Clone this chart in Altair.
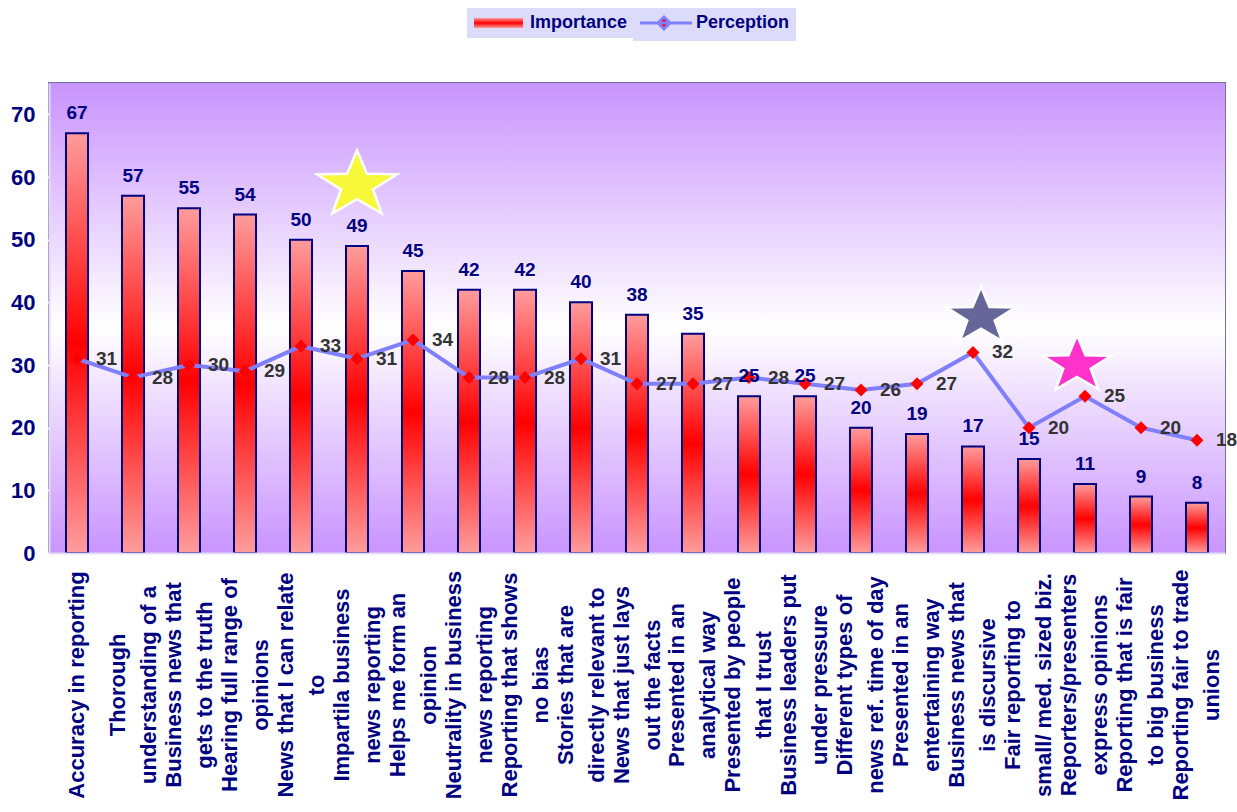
import math
import altair as alt
import pandas as pd

labels = [
    "Accuracy in reporting",
    "Thorough\nunderstanding of a",
    "Business news that\ngets to the truth",
    "Hearing full range of\nopinions",
    "News that I can relate\nto",
    "Impartila business\nnews reporting",
    "Helps me form an\nopinion",
    "Neutrality in business\nnews reporting",
    "Reporting that shows\nno bias",
    "Stories that are\ndirectly relevant to",
    "News that just lays\nout the facts",
    "Presented in an\nanalytical way",
    "Presented by people\nthat I trust",
    "Business leaders put\nunder pressure",
    "Different types of\nnews ref. time of day",
    "Presented in an\nentertaining way",
    "Business news that\nis discursive",
    "Fair reporting to\nsmall/ med. sized biz.",
    "Reporters/presenters\nexpress opinions",
    "Reporting that is fair\nto big business",
    "Reporting fair to trade\nunions",
]
importance = [67, 57, 55, 54, 50, 49, 45, 42, 42, 40, 38, 35, 25, 25, 20, 19, 17, 15, 11, 9, 8]
perception = [31, 28, 30, 29, 33, 31, 34, 28, 28, 31, 27, 27, 28, 27, 26, 27, 32, 20, 25, 20, 18]
y_ticks = [0, 10, 20, 30, 40, 50, 60, 70]

# star annotations: anchor category index and value
star_cat = [5, 16, 18]
star_val = [58.7, 37.7, 30.0]
star_color = ["#F8F83A", "#666699", "#FF33CC"]

W, H = 1176, 470
FONT = "Liberation Sans"
NAVY = "#000080"

df = pd.DataFrame({
    "label": labels,
    "importance": importance,
    "perception": perception,
    "s1": ["Importance"] * len(labels),
    "s2": ["Perception"] * len(labels),
})

x_enc = alt.X(
    "label:N", sort=labels,
    scale=alt.Scale(paddingInner=0.6071, paddingOuter=0.3036),
    axis=alt.Axis(labels=False, ticks=False, title=None, domainColor="#E4DCF4",
                  domainWidth=2, zindex=1),
)
y_axis = alt.Axis(values=y_ticks, title=None, labelFont=FONT, labelFontSize=22,
                  labelFontWeight="bold", labelColor=NAVY, tickColor="white",
                  tickSize=6, tickWidth=2, labelPadding=8, domainColor="#E4DCF4",
                  domainWidth=2, grid=False, zindex=1)
y_scale = alt.Scale(domain=[0, 75], nice=False)

bg_grad = alt.Gradient(
    gradient="linear", x1=0, x2=0, y1=0, y2=1,
    stops=[alt.GradientStop(color="#C994FF", offset=0),
           alt.GradientStop(color="#FFFFFF", offset=0.52),
           alt.GradientStop(color="#C994FF", offset=1)],
)
bar_grad = alt.Gradient(
    gradient="linear", x1=0, x2=0, y1=0, y2=1,
    stops=[alt.GradientStop(color="#FF9C9C", offset=0),
           alt.GradientStop(color="#FF0000", offset=0.5),
           alt.GradientStop(color="#FF9C9C", offset=1)],
)

background = alt.Chart(pd.DataFrame({"a": [0]})).mark_rect(fill=bg_grad).encode(
    x=alt.value(0), x2=alt.value(W), y=alt.value(0), y2=alt.value(H)
)

leg_common = dict(title=None, orient="none", labelFont=FONT, labelFontSize=18,
                  labelFontWeight="bold", labelColor=NAVY, fillColor="#DCDCFA",
                  padding=6, symbolSize=100, legendY=-75)

IMP_SYM = "M-1.6,-1L8.2,-1L8.2,1L-1.6,1Z"
PER_SYM = "M-1.6,0L8.8,0M2,0L3.2,-1.2L4.4,0L3.2,1.2Z"

bars = alt.Chart(df).mark_bar(fill=bar_grad, stroke=NAVY, strokeWidth=2).encode(
    x=x_enc,
    y=alt.Y("importance:Q", scale=y_scale, axis=y_axis),
    opacity=alt.Opacity("s1:N", scale=alt.Scale(domain=["Importance"], range=[1.0]),
                        legend=alt.Legend(symbolType=IMP_SYM, symbolStrokeColor=NAVY,
                                          symbolStrokeWidth=2, labelOffset=39,
                                          legendX=418, **leg_common)),
)

line = alt.Chart(df).mark_line(strokeWidth=4).encode(
    x=x_enc,
    y=alt.Y("perception:Q", scale=y_scale, axis=y_axis),
    color=alt.Color("s2:N", scale=alt.Scale(domain=["Perception"], range=["#7F7FFF"]),
                    legend=alt.Legend(symbolType=PER_SYM, symbolFillColor="#FF0000",
                                      symbolStrokeWidth=3, labelOffset=39,
                                      legendX=584, **leg_common)),
)

points = alt.Chart(df).mark_point(shape="diamond", filled=True, fill="#FF0000",
                                  size=170, opacity=1).encode(
    x=x_enc, y=alt.Y("perception:Q", scale=y_scale, axis=y_axis)
)

imp_text = alt.Chart(df).mark_text(align="center", baseline="middle", dy=-20, font=FONT,
                                   fontSize=19, fontWeight="bold", color=NAVY).encode(
    x=x_enc, y=alt.Y("importance:Q", scale=y_scale, axis=y_axis), text="importance:Q"
)

per_text = alt.Chart(df).mark_text(align="left", baseline="middle", dx=19, font=FONT,
                                   fontSize=19, fontWeight="bold", color="#333333").encode(
    x=x_enc, y=alt.Y("perception:Q", scale=y_scale, axis=y_axis), text="perception:Q"
)

# star path (style), x stretched a bit
pts = []
for i in range(10):
    ang = math.radians(-90 + 36 * i)
    r = 1.0 if i % 2 == 0 else 0.4
    pts.append((1.2 * r * math.cos(ang), r * math.sin(ang)))
STAR = "M" + "L".join(f"{px:.3f},{py:.3f}" for px, py in pts) + "Z"

star_sizes = [4900, 3600, 3600]
star_dx = [0, 8, -8]
stars = []
for ci, v, col, sz, dx in zip(star_cat, star_val, star_color, star_sizes, star_dx):
    stars.append(
        alt.Chart(pd.DataFrame({"label": [labels[ci]], "v": [v]})).mark_point(
            shape=STAR, filled=True, fill=col, stroke="white", strokeWidth=2.5,
            size=sz, opacity=1, xOffset=dx,
        ).encode(x=x_enc, y=alt.Y("v:Q", scale=y_scale, axis=y_axis))
    )

LH = 31
lab_style = dict(angle=270, align="center", baseline="middle", font=FONT, fontSize=22,
                 fontWeight="bold", color=NAVY, lineHeight=LH)
lab_base = alt.Chart(df).transform_calculate(
    lines="split(datum.label, '\\n')", n="length(split(datum.label, '\\n'))"
)
xlabels1 = lab_base.transform_filter("datum.n == 1").mark_text(**lab_style).encode(
    x=x_enc, y=alt.value(602), text="lines:N"
)
xlabels2 = lab_base.transform_filter("datum.n == 2").mark_text(dy=-LH / 2, **lab_style).encode(
    x=x_enc, y=alt.value(602), text="lines:N"
)

chart = alt.layer(background, bars, line, points, imp_text, per_text, *stars,
                  xlabels1, xlabels2).properties(
    width=W, height=H,
    autosize=alt.AutoSizeParams(type="none"),
    padding={"left": 49, "top": 83, "right": 12, "bottom": 259},
    background="white",
).configure_view(stroke="#7373A3", strokeWidth=2)

chart.save("out.html", embed_options={"renderer": "svg", "actions": False})
